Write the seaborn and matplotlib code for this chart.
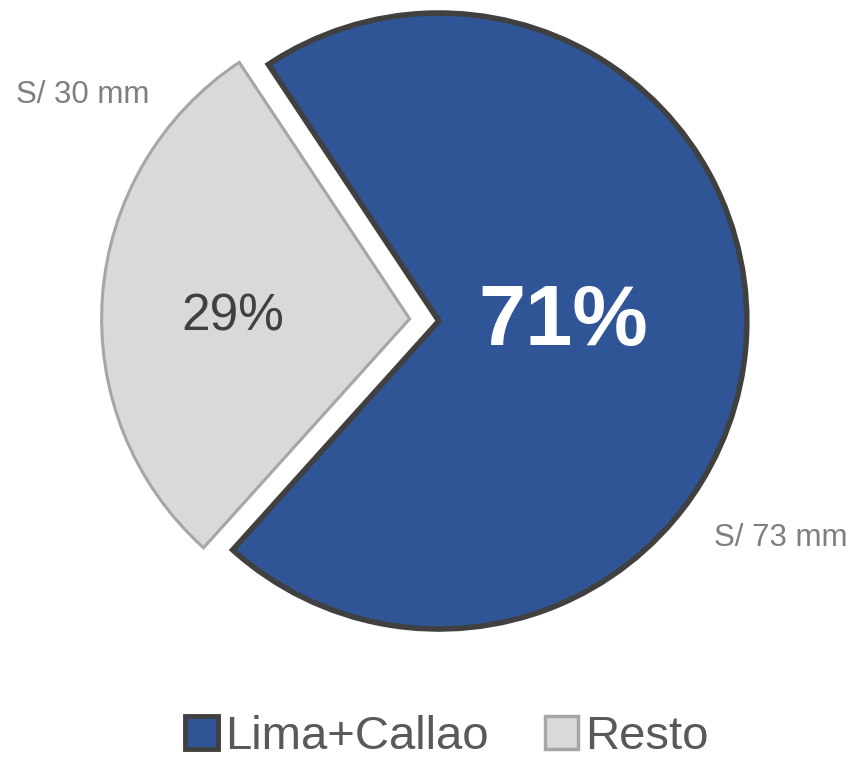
import seaborn as sns
import matplotlib.pyplot as plt
from matplotlib.patches import Patch

# datos
regiones = ["Lima+Callao", "Resto"]
porcentajes = [71, 29]
montos = ["S/ 73 mm", "S/ 30 mm"]
colores = ["#2F5597", "#D9D9D9"]
bordes = ["#404040", "#A6A6A6"]

sns.set_style("white")
plt.rcParams['font.family'] = ['Liberation Sans', 'DejaVu Sans']

fig = plt.figure(figsize=(8.51, 7.57), dpi=100)
ax = fig.add_axes([0, 0, 1, 1])

cuñas, _ = ax.pie(porcentajes, colors=colores, startangle=228, explode=[0.045, 0.05],
                  radius=1.0)
for w, b, lw in zip(cuñas, bordes, [4.0, 2.2]):
    w.set_edgecolor(b)
    w.set_linewidth(lw)
    w.set_joinstyle('miter')

ax.set_xlim(-425 / 308, (851 - 425) / 308)
ax.set_ylim(-437 / 308, 320 / 308)
ax.set_aspect('auto')
ax.axis('off')

# etiquetas de porcentaje
ax.text(0.45, -0.01, f"{porcentajes[0]}%", color="white", fontsize=61, fontweight="bold",
        ha="center", va="center")
ax.text(-0.625, 0.01, f"{porcentajes[1]}%", color="#404040", fontsize=37,
        ha="center", va="center")

# montos
fig.text(847 / 851, 1 - 538 / 757, montos[0], color="#7F7F7F", fontsize=22.5, ha="right", va="center")
fig.text(16 / 851, 1 - 95 / 757, montos[1], color="#7F7F7F", fontsize=22.5, ha="left", va="center")

handles = [Patch(facecolor=c, edgecolor=b, linewidth=lw) for c, b, lw in zip(colores, bordes, [3.5, 2.5])]
fig.legend(handles, regiones, loc="center", bbox_to_anchor=(0.525, 0.027), ncol=2, frameon=False,
           fontsize=34, labelcolor="#595959", handlelength=0.7, handleheight=0.7,
           handletextpad=0.15, columnspacing=1.2)

plt.savefig("out.png", dpi=100)
